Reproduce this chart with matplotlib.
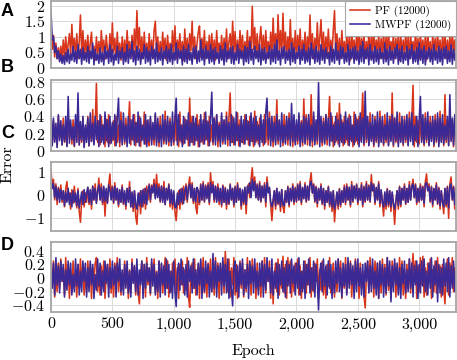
import matplotlib
matplotlib.use("Agg")
import matplotlib.pyplot as plt
from matplotlib.ticker import FuncFormatter

plt.rcParams['font.family'] = 'serif'
plt.rcParams['font.serif'] = ['cmr10', 'DejaVu Serif']
plt.rcParams['mathtext.fontset'] = 'cm'
plt.rcParams['axes.formatter.use_mathtext'] = True

# Epoch grid (one sample every 10 epochs)
epochs = list(range(0, 3301, 10))

# Panel A
pf_a = [1.2, 0.6, 1.05, 0.35, 0.8, 0.3, 0.65, 0.25, 0.7, 0.3,
        0.9, 0.35, 1.0, 0.45, 0.75, 1.1, 0.4, 1.4, 0.5, 0.95,
        0.4, 1.1, 0.3, 0.85, 1.7, 0.45, 1.2, 0.3, 0.9, 0.5,
        1.05, 0.3, 0.8, 1.15, 0.35, 0.7, 0.25, 1.0, 0.45, 0.85,
        0.3, 1.2, 0.5, 0.9, 0.28, 1.05, 0.6, 0.35, 1.1, 0.4,
        1.45, 0.5, 0.95, 0.3, 1.15, 0.45, 0.8, 0.25, 1.0, 0.35,
        0.9, 0.3, 1.2, 0.55, 0.85, 0.3, 1.05, 0.4, 1.25, 0.5,
        1.84, 0.6, 1.3, 0.4, 1.0, 0.3, 1.15, 0.35, 0.8, 0.28,
        1.1, 0.45, 0.9, 0.3, 1.2, 1.5, 0.5, 1.0, 0.3, 0.85,
        0.35, 1.15, 0.5, 0.95, 0.25, 1.05, 0.4, 0.8, 0.3, 1.2,
        0.45, 1.35, 0.3, 0.9, 0.5, 1.1, 0.35, 0.85, 0.25, 1.25,
        0.4, 0.95, 0.3, 1.1, 0.55, 1.5, 0.4, 1.0, 0.3, 0.8,
        1.15, 1.35, 0.35, 0.95, 0.5, 1.2, 0.3, 0.85, 0.45, 1.05,
        0.3, 1.1, 0.4, 0.9, 0.25, 1.2, 0.5, 0.8, 0.35, 1.05,
        0.3, 0.95, 0.45, 1.25, 0.3, 0.85, 1.1, 0.4, 1.5, 0.5,
        1.17, 0.35, 0.9, 0.3, 1.2, 0.5, 1.05, 0.3, 0.85, 0.4,
        1.2, 0.35, 1.0, 0.5, 1.98, 0.6, 1.3, 0.4, 1.1, 0.3,
        0.9, 1.33, 0.4, 1.05, 0.3, 1.2, 0.5, 0.85, 0.35, 1.15,
        0.45, 1.6, 0.5, 1.1, 0.35, 1.71, 0.55, 1.2, 0.4, 1.76,
        0.5, 1.15, 0.35, 1.0, 0.45, 1.55, 0.4, 0.95, 0.3, 1.2,
        0.35, 1.05, 0.5, 1.25, 0.3, 0.9, 0.45, 1.15, 0.3, 1.0,
        0.4, 1.7, 0.5, 1.1, 0.3, 0.95, 0.45, 1.45, 0.4, 1.0,
        1.55, 0.45, 1.15, 0.3, 1.0, 0.5, 1.25, 0.35, 0.9, 0.4,
        1.2, 1.84, 0.5, 1.1, 0.35, 0.95, 0.3, 1.2, 0.45, 0.85,
        0.3, 1.15, 0.4, 1.0, 0.25, 1.25, 0.5, 0.9, 0.3, 1.1,
        0.45, 1.3, 0.35, 0.95, 0.5, 1.15, 0.3, 0.85, 0.4, 1.2,
        0.3, 1.05, 0.45, 1.25, 0.35, 0.9, 0.5, 1.1, 0.3, 0.95,
        0.4, 1.2, 0.3, 1.0, 0.45, 1.3, 0.35, 0.85, 0.5, 1.1,
        0.3, 0.95, 0.4, 1.15, 0.25, 1.05, 0.45, 0.9, 0.35, 1.2,
        0.4, 1.0, 0.3, 1.1, 0.5, 0.85, 0.35, 1.25, 0.4, 0.95,
        0.3, 1.15, 0.45, 0.9, 0.35, 1.05, 0.25, 1.2, 0.4, 0.85,
        0.3, 1.1, 0.5, 0.95, 0.35, 1.2, 0.4, 0.9, 0.3, 1.05,
        0.45, 1.15, 0.3, 0.9, 0.4, 1.05, 0.35, 1.2, 0.45, 0.9,
        0.4]
mwpf_a = [1.85, 0.9, 1.0, 0.5, 0.7, 0.3, 0.55, 0.2, 0.45, 0.15,
          0.4, 0.12, 0.5, 0.2, 0.6, 0.15, 0.45, 0.25, 0.7, 0.2,
          0.55, 0.15, 0.75, 0.3, 0.6, 0.12, 0.65, 0.25, 0.5, 0.2,
          0.7, 0.15, 0.55, 0.3, 0.8, 0.1, 0.6, 0.25, 0.45, 0.15,
          0.65, 0.2, 0.5, 0.1, 0.7, 0.3, 0.55, 0.15, 0.75, 0.2,
          0.6, 0.1, 0.45, 0.25, 0.7, 0.15, 0.55, 0.3, 0.65, 0.12,
          0.5, 0.2, 0.75, 0.15, 0.6, 0.3, 0.85, 0.2, 0.55, 0.1,
          0.7, 0.25, 0.6, 0.12, 0.5, 0.3, 0.75, 0.15, 0.65, 0.2,
          0.55, 0.1, 0.7, 0.3, 0.6, 0.15, 0.8, 0.2, 0.5, 0.25,
          0.65, 0.1, 0.55, 0.3, 0.7, 0.15, 0.6, 0.2, 0.75, 0.12,
          0.5, 0.25, 0.8, 0.15, 0.6, 0.3, 0.55, 0.1, 0.7, 0.2,
          0.6, 0.15, 0.75, 0.25, 0.5, 0.12, 0.65, 0.3, 0.7, 0.15,
          0.55, 0.2, 0.9, 0.25, 0.6, 0.1, 0.7, 0.3, 0.55, 0.15,
          0.75, 0.2, 0.6, 0.12, 0.65, 0.3, 0.5, 0.15, 0.7, 0.25,
          0.6, 0.1, 0.8, 0.2, 0.55, 0.3, 0.65, 0.15, 0.7, 0.12,
          0.5, 0.25, 0.75, 0.15, 0.6, 0.3, 0.55, 0.1, 0.7, 0.2,
          0.65, 0.15, 0.85, 0.25, 0.6, 0.12, 0.7, 0.3, 0.55, 0.2,
          0.75, 0.1, 0.6, 0.25, 0.65, 0.15, 0.5, 0.3, 0.7, 0.12,
          0.6, 0.2, 0.75, 0.15, 0.9, 0.25, 0.55, 0.1, 0.65, 0.3,
          0.7, 0.15, 0.55, 0.25, 0.6, 0.1, 0.8, 0.2, 0.65, 0.15,
          0.5, 0.3, 0.7, 0.12, 0.6, 0.25, 0.75, 0.15, 0.55, 0.2,
          0.65, 0.1, 0.8, 0.3, 0.6, 0.15, 0.7, 0.2, 0.55, 0.12,
          0.75, 0.25, 0.6, 0.15, 0.65, 0.3, 0.5, 0.1, 0.7, 0.2,
          0.6, 0.15, 0.8, 0.25, 0.55, 0.12, 0.7, 0.3, 0.65, 0.15,
          0.5, 0.2, 0.75, 0.1, 0.6, 0.3, 0.65, 0.15, 0.7, 0.25,
          0.55, 0.12, 0.7, 0.2, 0.85, 0.15, 0.6, 0.3, 0.65, 0.1,
          0.75, 0.25, 0.55, 0.15, 0.7, 0.2, 0.6, 0.12, 0.65, 0.3,
          0.5, 0.15, 0.8, 0.2, 0.6, 0.1, 0.7, 0.25, 0.55, 0.15,
          0.65, 0.3, 0.75, 0.12, 0.6, 0.2, 0.7, 0.15, 0.5, 0.25,
          0.7, 0.1, 0.6, 0.3, 0.75, 0.15, 0.55, 0.2, 0.65, 0.12,
          0.8, 0.25, 0.6, 0.15, 0.7, 0.1, 0.55, 0.3, 0.65, 0.2,
          0.6, 0.12, 0.75, 0.25, 0.55, 0.15, 0.7, 0.2, 0.6, 0.1,
          0.65, 0.3, 0.7, 0.15, 0.55, 0.2, 0.75, 0.12, 0.6, 0.25,
          0.5]

# Panel B
pf_b = [0.3, 0.08, 0.35, 0.12, 0.28, 0.05, 0.4, 0.15, 0.32, 0.07,
        0.38, 0.1, 0.25, 0.06, 0.42, 0.14, 0.3, 0.08, 0.36, 0.05,
        0.33, 0.12, 0.45, 0.07, 0.3, 0.1, 0.38, 0.05, 0.27, 0.13,
        0.4, 0.06, 0.32, 0.11, 0.48, 0.08, 0.3, 0.78, 0.1, 0.35,
        0.07, 0.4, 0.13, 0.3, 0.05, 0.37, 0.1, 0.42, 0.08, 0.28,
        0.12, 0.35, 0.06, 0.4, 0.1, 0.3, 0.05, 0.45, 0.14, 0.33,
        0.08, 0.38, 0.11, 0.3, 0.57, 0.07, 0.36, 0.12, 0.42, 0.06,
        0.33, 0.1, 0.4, 0.05, 0.3, 0.13, 0.45, 0.08, 0.35, 0.1,
        0.06, 0.38, 0.12, 0.3, 0.07, 0.42, 0.1, 0.33, 0.05, 0.4,
        0.13, 0.3, 0.08, 0.46, 0.11, 0.35, 0.06, 0.38, 0.1, 0.32,
        0.07, 0.4, 0.12, 0.33, 0.05, 0.45, 0.1, 0.3, 0.08, 0.38,
        0.14, 0.35, 0.06, 0.61, 0.1, 0.4, 0.07, 0.32, 0.12, 0.42,
        0.05, 0.36, 0.1, 0.3, 0.08, 0.44, 0.13, 0.35, 0.06, 0.4,
        0.11, 0.3, 0.07, 0.38, 0.12, 0.42, 0.05, 0.33, 0.1, 0.4,
        0.08, 0.35, 0.13, 0.45, 0.06, 0.38, 0.67, 0.1, 0.4, 0.07,
        0.32, 0.12, 0.44, 0.06, 0.36, 0.1, 0.3, 0.08, 0.42, 0.13,
        0.35, 0.07, 0.4, 0.11, 0.3, 0.05, 0.46, 0.1, 0.34, 0.08,
        0.38, 0.13, 0.3, 0.06, 0.42, 0.1, 0.36, 0.07, 0.45, 0.12,
        0.33, 0.05, 0.4, 0.1, 0.59, 0.08, 0.35, 0.12, 0.3, 0.06,
        0.42, 0.1, 0.36, 0.07, 0.44, 0.13, 0.32, 0.05, 0.38, 0.1,
        0.3, 0.08, 0.4, 0.12, 0.35, 0.06, 0.6, 0.1, 0.42, 0.07,
        0.36, 0.13, 0.65, 0.05, 0.4, 0.1, 0.33, 0.08, 0.45, 0.12,
        0.3, 0.06, 0.38, 0.1, 0.42, 0.07, 0.35, 0.63, 0.12, 0.4,
        0.05, 0.33, 0.1, 0.44, 0.08, 0.55, 0.12, 0.36, 0.06, 0.4,
        0.1, 0.35, 0.07, 0.42, 0.13, 0.3, 0.05, 0.45, 0.1, 0.38,
        0.08, 0.4, 0.12, 0.33, 0.67, 0.06, 0.42, 0.1, 0.36, 0.07,
        0.44, 0.13, 0.3, 0.05, 0.4, 0.1, 0.35, 0.08, 0.46, 0.12,
        0.36, 0.06, 0.42, 0.1, 0.33, 0.07, 0.4, 0.13, 0.67, 0.05,
        0.38, 0.1, 0.3, 0.08, 0.44, 0.12, 0.36, 0.06, 0.4, 0.1,
        0.33, 0.07, 0.45, 0.13, 0.38, 0.76, 0.05, 0.4, 0.1, 0.35,
        0.08, 0.42, 0.12, 0.3, 0.06, 0.44, 0.1, 0.36, 0.07, 0.4,
        0.13, 0.35, 0.05, 0.42, 0.1, 0.38, 0.08, 0.46, 0.12, 0.33,
        0.06, 0.65, 0.1, 0.36, 0.07, 0.42, 0.13, 0.35, 0.05, 0.4,
        0.1]
mwpf_b = [0.45, 0.06, 0.38, 0.1, 0.32, 0.04, 0.42, 0.12, 0.35, 0.07,
          0.3, 0.11, 0.4, 0.05, 0.63, 0.09, 0.36, 0.13, 0.28, 0.06,
          0.42, 0.1, 0.67, 0.07, 0.34, 0.12, 0.4, 0.04, 0.3, 0.1,
          0.38, 0.06, 0.44, 0.11, 0.32, 0.07, 0.4, 0.13, 0.35, 0.05,
          0.42, 0.1, 0.3, 0.08, 0.45, 0.12, 0.36, 0.05, 0.4, 0.09,
          0.33, 0.13, 0.42, 0.06, 0.38, 0.61, 0.1, 0.35, 0.07, 0.44,
          0.11, 0.3, 0.05, 0.4, 0.09, 0.36, 0.13, 0.42, 0.07, 0.33,
          0.1, 0.45, 0.06, 0.38, 0.12, 0.3, 0.08, 0.42, 0.05, 0.36,
          0.11, 0.4, 0.07, 0.33, 0.13, 0.44, 0.06, 0.38, 0.1, 0.3,
          0.05, 0.42, 0.12, 0.36, 0.08, 0.4, 0.11, 0.34, 0.06, 0.45,
          0.1, 0.38, 0.61, 0.07, 0.42, 0.12, 0.3, 0.05, 0.4, 0.09,
          0.36, 0.13, 0.44, 0.06, 0.33, 0.1, 0.4, 0.07, 0.38, 0.12,
          0.3, 0.05, 0.42, 0.11, 0.36, 0.08, 0.45, 0.13, 0.34, 0.06,
          0.4, 0.68, 0.1, 0.38, 0.07, 0.42, 0.12, 0.3, 0.05, 0.44,
          0.11, 0.36, 0.08, 0.4, 0.13, 0.33, 0.06, 0.42, 0.1, 0.38,
          0.07, 0.45, 0.12, 0.3, 0.05, 0.4, 0.1, 0.36, 0.08, 0.42,
          0.13, 0.34, 0.06, 0.44, 0.11, 0.38, 0.07, 0.4, 0.12, 0.3,
          0.05, 0.42, 0.1, 0.36, 0.08, 0.45, 0.61, 0.13, 0.38, 0.06,
          0.4, 0.11, 0.33, 0.07, 0.42, 0.12, 0.36, 0.05, 0.44, 0.1,
          0.3, 0.08, 0.4, 0.13, 0.38, 0.06, 0.55, 0.11, 0.42, 0.07,
          0.36, 0.12, 0.44, 0.05, 0.33, 0.1, 0.4, 0.08, 0.38, 0.13,
          0.42, 0.06, 0.3, 0.11, 0.45, 0.07, 0.36, 0.12, 0.79, 0.05,
          0.4, 0.1, 0.34, 0.08, 0.42, 0.13, 0.38, 0.06, 0.44, 0.11,
          0.3, 0.07, 0.4, 0.12, 0.36, 0.05, 0.42, 0.1, 0.33, 0.08,
          0.45, 0.13, 0.38, 0.06, 0.4, 0.11, 0.3, 0.07, 0.42, 0.12,
          0.36, 0.05, 0.44, 0.1, 0.38, 0.08, 0.69, 0.13, 0.4, 0.06,
          0.33, 0.11, 0.42, 0.07, 0.36, 0.12, 0.45, 0.05, 0.38, 0.1,
          0.4, 0.08, 0.3, 0.13, 0.44, 0.06, 0.36, 0.11, 0.42, 0.07,
          0.38, 0.12, 0.45, 0.05, 0.33, 0.1, 0.4, 0.08, 0.36, 0.13,
          0.42, 0.06, 0.38, 0.11, 0.44, 0.07, 0.3, 0.12, 0.4, 0.05,
          0.36, 0.63, 0.1, 0.42, 0.08, 0.38, 0.13, 0.45, 0.06, 0.33,
          0.11, 0.4, 0.07, 0.36, 0.12, 0.44, 0.05, 0.38, 0.1, 0.42,
          0.08, 0.3, 0.13, 0.4, 0.06, 0.65, 0.11, 0.38, 0.07, 0.42,
          0.1]

# Panel C
pf_c = [1.13, 0.3, 0.7, -0.2, 0.5, -0.4, 0.35, -0.1, 0.45, -0.3,
        0.2, -0.5, 0.3, 0.6, -0.2, 0.1, -0.6, 0.25, -0.35, 0.4,
        -0.1, -0.55, 0.3, -0.7, -1.17, -0.2, 0.2, -0.5, 0.1, -0.3,
        0.35, -0.4, 0.2, -0.6, 0.4, -0.2, 0.5, -0.3, 0.15, 0.75,
        -0.2, 0.5, -0.4, 0.3, -0.9, 0.2, -0.3, 0.45, 0.93, -0.1,
        0.4, -0.35, 0.55, -0.2, 0.3, -0.5, 0.2, -0.3, 0.45, -0.4,
        0.1, -0.6, 0.3, -0.2, 0.6, -0.5, 0.1, -0.7, 0.2, -0.9,
        -1.26, -0.3, 0.1, -0.8, 0.2, -0.5, 0.3, -0.6, 0.4, -0.2,
        0.5, -0.3, 0.45, 0.2, 0.7, -0.1, 0.91, 0.1, 0.5, -0.3,
        0.4, -0.2, 0.6, -0.4, 0.3, -0.1, 0.5, -0.5, 0.2, -0.6,
        0.1, -0.7, -1.1, -0.3, 0.2, -0.6, 0.3, -0.4, 0.4, -0.2,
        0.5, -0.3, 0.4, 0.8, -0.1, 0.55, -0.35, 0.3, -0.5, -0.8,
        0.2, -0.4, 0.5, -0.2, 0.6, -0.3, 0.45, -0.1, 0.55, -0.4,
        0.98, 0.2, 0.6, -0.3, 0.4, -0.2, 0.5, -0.4, 0.3, -0.5,
        0.45, -0.3, 0.35, -0.6, 0.2, -0.4, 0.5, -0.2, 0.3, -0.5,
        0.4, -0.3, 0.55, -0.2, 0.3, -0.6, 0.2, -0.4, 0.35, -0.8,
        0.3, 0.5, -0.1, 0.7, 1.2, 0.3, 0.8, -0.1, 0.5, -0.2,
        0.6, -0.3, 0.4, -0.1, 0.55, -0.5, 0.8, 0.2, 0.3, -0.4,
        -1.1, -0.3, 0.2, -0.6, 0.3, -0.4, 0.1, -0.7, 0.25, -0.5,
        -0.75, 0.2, -0.3, 0.4, -0.5, 0.3, -0.2, 0.5, -0.4, 0.35,
        -0.3, 0.5, -0.2, 0.6, -0.4, 0.3, -0.1, 0.55, -0.3, 0.4,
        -0.2, 0.6, 0.98, 0.1, 0.5, -0.3, 0.4, -0.5, 0.3, -0.2,
        0.5, -0.4, 0.3, -0.6, 0.2, -0.3, 0.4, -0.5, 0.1, -0.7,
        0.2, -1.15, -0.4, 0.1, -0.6, 0.3, -0.5, 0.2, -0.3, 0.45,
        -0.4, 0.5, -0.2, 0.35, -0.5, 0.6, -0.3, 0.4, -0.1, 0.5,
        -0.4, 0.3, -0.2, 0.55, -0.5, 0.4, -0.3, 0.6, -0.2, 0.45,
        -0.3, 0.9, 0.2, 0.5, -0.4, 0.3, -0.2, 0.6, -0.5, 0.2,
        -0.3, -0.9, 0.1, -0.6, 0.3, -0.5, 0.2, -0.7, 0.1, -0.4,
        -1.26, -0.3, 0.2, -0.6, 0.4, -0.5, 0.3, -0.2, 0.5, -0.4,
        0.3, -0.3, 0.6, -0.2, 0.4, 0.7, -0.1, 0.5, -0.4, 0.3,
        -0.3, 0.5, -0.2, 0.4, -0.5, 0.6, 0.93, 0.2, 0.5, -0.3,
        0.4, -0.5, 0.3, -0.2, 0.55, -0.4, 0.35, -0.6, 0.2, -0.3,
        -0.8, 0.3, -0.5, 0.4, -1.0, 0.5, 0.8, -0.2, 0.4, -0.6,
        0.3]
mwpf_c = [0.8, 0.3, 0.5, -0.1, 0.4, -0.2, 0.3, -0.3, 0.25, -0.2,
          0.2, -0.45, 0.15, -0.3, 0.3, -0.4, 0.1, -0.5, 0.2, -0.3,
          0.1, -0.45, 0.2, -0.55, -0.2, 0.15, -0.4, 0.25, -0.3, 0.1,
          0.35, -0.3, 0.25, -0.4, 0.4, -0.2, 0.3, -0.35, 0.2, 0.45,
          -0.2, 0.35, -0.3, 0.4, -0.25, 0.3, -0.35, 0.45, 0.2, -0.2,
          0.35, -0.3, 0.4, -0.2, 0.3, -0.4, 0.25, -0.3, 0.35, -0.35,
          0.2, -0.45, 0.3, -0.3, 0.35, -0.5, 0.15, -0.55, 0.2, -0.4,
          -0.6, 0.1, -0.45, 0.2, -0.5, 0.25, -0.35, 0.3, -0.4, 0.2,
          0.45, -0.2, 0.4, 0.1, 0.5, -0.15, 0.45, -0.1, 0.35, -0.25,
          0.4, -0.3, 0.35, -0.4, 0.3, -0.2, 0.45, -0.35, 0.25, -0.4,
          0.2, -0.5, -0.55, 0.1, -0.4, 0.25, -0.3, 0.3, -0.35, 0.2,
          0.4, -0.2, 0.35, 0.5, -0.1, 0.45, -0.25, 0.3, -0.3, 0.35,
          0.2, -0.3, 0.45, -0.2, 0.5, -0.25, 0.4, -0.15, 0.45, -0.3,
          0.55, 0.1, 0.45, -0.2, 0.4, -0.3, 0.35, -0.25, 0.3, -0.4,
          0.4, -0.3, 0.3, -0.4, 0.25, -0.35, 0.45, -0.2, 0.3, -0.4,
          0.35, -0.3, 0.45, -0.2, 0.3, -0.45, 0.25, -0.3, 0.35, -0.4,
          0.4, 0.1, 0.55, -0.1, 0.7, 0.2, 0.6, -0.1, 0.45, -0.2,
          0.5, -0.25, 0.4, -0.1, 0.45, -0.3, 0.55, 0.1, 0.35, -0.3,
          -0.5, -0.2, 0.2, -0.45, 0.3, -0.35, 0.15, -0.5, 0.25, -0.4,
          -0.45, 0.2, -0.3, 0.35, -0.4, 0.3, -0.25, 0.4, -0.3, 0.3,
          -0.25, 0.45, -0.2, 0.5, -0.3, 0.35, -0.15, 0.45, -0.25, 0.4,
          -0.2, 0.5, 0.6, 0.1, 0.45, -0.25, 0.35, -0.35, 0.3, -0.2,
          0.4, -0.35, 0.3, -0.45, 0.2, -0.3, 0.35, -0.4, 0.15, -0.5,
          0.2, -0.6, -0.35, 0.15, -0.45, 0.25, -0.4, 0.2, -0.3, 0.35,
          -0.3, 0.4, -0.2, 0.35, -0.4, 0.45, -0.25, 0.4, -0.15, 0.45,
          -0.3, 0.3, -0.2, 0.45, -0.4, 0.35, -0.25, 0.5, -0.2, 0.4,
          -0.25, 0.55, 0.2, 0.45, -0.3, 0.35, -0.2, 0.5, -0.35, 0.25,
          -0.3, -0.5, 0.15, -0.45, 0.25, -0.4, 0.2, -0.5, 0.15, -0.35,
          -0.6, -0.25, 0.2, -0.45, 0.35, -0.4, 0.3, -0.2, 0.4, -0.35,
          0.3, -0.3, 0.45, -0.2, 0.4, 0.5, -0.1, 0.45, -0.3, 0.3,
          -0.25, 0.4, -0.2, 0.35, -0.35, 0.5, 0.55, 0.2, 0.4, -0.25,
          0.35, -0.4, 0.3, -0.2, 0.45, -0.35, 0.3, -0.45, 0.2, -0.3,
          -0.5, 0.3, -0.4, 0.35, -0.55, 0.4, 0.5, -0.2, 0.35, -0.4,
          0.3]

# Panel D
pf_d = [0.2, -0.1, 0.25, -0.28, 0.05, -0.2, 0.22, -0.15, 0.28, -0.05,
        0.15, -0.25, 0.3, -0.1, 0.2, -0.3, 0.1, -0.2, 0.25, -0.12,
        0.05, -0.28, 0.2, -0.15, 0.28, -0.05, 0.18, -0.25, 0.1, -0.2,
        0.25, -0.1, 0.2, -0.3, 0.15, -0.05, 0.22, 0.3, -0.2, 0.1,
        -0.25, 0.18, -0.1, 0.25, -0.3, 0.05, 0.2, -0.15, 0.28, -0.22,
        0.1, -0.28, 0.22, -0.05, 0.3, -0.2, 0.15, -0.25, 0.08, -0.18,
        0.25, -0.1, 0.2, -0.3, 0.12, -0.22, 0.28, -0.05, 0.18, -0.25,
        0.1, -0.2, -0.38, 0.05, 0.25, -0.15, 0.2, -0.28, 0.3, -0.1,
        0.15, -0.25, 0.22, -0.05, 0.28, -0.2, 0.1, -0.3, 0.25, -0.12,
        0.2, -0.22, 0.05, 0.3, -0.15, 0.25, -0.28, 0.1, -0.2, 0.22,
        -0.05, 0.28, -0.25, 0.15, -0.3, 0.2, -0.1, 0.25, -0.22, 0.12,
        -0.18, 0.3, -0.28, -0.43, 0.1, 0.22, -0.15, 0.28, -0.25, 0.05,
        0.2, -0.3, 0.25, -0.1, 0.3, -0.22, 0.15, -0.28, 0.22, -0.05,
        0.28, -0.2, 0.1, -0.25, 0.3, -0.15, 0.22, -0.3, 0.18, -0.1,
        0.25, -0.22, 0.39, 0.1, -0.2, 0.28, -0.28, 0.15, -0.1, 0.3,
        -0.25, 0.2, -0.3, 0.05, 0.25, -0.15, 0.22, -0.28, 0.12, -0.2,
        0.3, -0.1, 0.2, -0.25, 0.28, -0.05, 0.15, -0.3, 0.22, -0.18,
        0.1, -0.28, 0.25, -0.12, 0.3, -0.22, 0.18, -0.05, 0.25, -0.3,
        0.15, -0.38, 0.05, 0.22, -0.2, 0.28, -0.25, 0.1, -0.15, 0.32,
        -0.22, 0.2, -0.3, 0.3, -0.1, 0.25, -0.28, 0.12, -0.2, 0.22,
        -0.05, 0.28, -0.25, 0.18, -0.3, 0.1, -0.15, 0.25, -0.22, 0.2,
        -0.1, 0.3, -0.28, 0.15, -0.2, 0.22, -0.05, 0.28, -0.3, 0.12,
        -0.18, 0.25, -0.25, 0.1, -0.3, 0.2, -0.12, 0.3, -0.22, 0.05,
        0.22, -0.28, 0.15, -0.2, 0.28, -0.05, 0.25, -0.3, 0.1, -0.15,
        0.3, -0.22, 0.18, -0.1, 0.25, -0.28, 0.12, -0.2, 0.28, -0.05,
        0.2, -0.3, 0.22, -0.15, 0.1, -0.25, -0.44, 0.05, 0.25, -0.2,
        0.3, -0.1, 0.18, -0.28, 0.25, -0.05, 0.22, -0.3, 0.15, -0.22,
        0.28, -0.12, 0.2, -0.25, 0.3, -0.18, 0.1, -0.3, 0.25, -0.05,
        0.22, -0.28, 0.15, -0.2, 0.3, -0.1, 0.25, -0.25, 0.12, -0.3,
        0.2, -0.15, 0.28, -0.22, 0.1, 0.36, -0.05, 0.25, -0.3, 0.18,
        -0.2, 0.3, -0.1, 0.32, -0.28, 0.15, -0.25, 0.22, -0.05, 0.28,
        -0.3, 0.12, -0.2, 0.25, -0.22, 0.3, -0.1, 0.18, -0.28, 0.2,
        -0.15, -0.38, 0.1, 0.28, -0.25, 0.22, -0.05, 0.3, -0.2, 0.15,
        -0.1]
mwpf_d = [0.1, -0.15, 0.22, -0.25, 0.3, -0.1, 0.18, -0.22, 0.25, -0.05,
          0.2, -0.28, 0.12, -0.18, 0.25, -0.1, 0.22, -0.25, 0.05, -0.2,
          0.28, -0.12, 0.2, -0.25, 0.1, -0.2, 0.25, -0.05, 0.22, -0.28,
          0.15, -0.2, 0.25, -0.1, 0.2, -0.3, 0.05, -0.18, 0.28, -0.12,
          0.22, -0.25, 0.1, -0.2, 0.25, -0.08, 0.2, -0.28, 0.15, -0.15,
          0.25, -0.1, 0.18, -0.28, 0.22, -0.05, 0.28, -0.2, 0.12, -0.25,
          0.2, -0.15, 0.25, -0.22, 0.1, -0.28, 0.22, -0.08, 0.18, -0.2,
          0.28, -0.25, 0.12, -0.1, 0.25, -0.3, 0.2, -0.15, 0.22, -0.05,
          0.15, -0.22, 0.28, -0.12, 0.2, -0.25, 0.08, -0.2, 0.25, -0.28,
          0.22, -0.1, 0.18, -0.25, 0.28, -0.15, 0.2, -0.22, 0.1, -0.3,
          0.25, -0.2, -0.42, 0.1, 0.22, -0.18, 0.28, -0.1, 0.15, -0.25,
          0.2, -0.28, 0.25, -0.05, 0.18, -0.22, 0.28, -0.15, 0.12, -0.25,
          0.22, -0.1, 0.28, -0.3, 0.15, -0.2, 0.25, -0.08, 0.2, -0.28,
          0.1, -0.2, 0.36, -0.15, 0.25, -0.28, 0.18, -0.05, 0.22, -0.25,
          0.3, -0.12, 0.2, -0.22, 0.28, -0.3, 0.1, -0.18, -0.41, 0.15,
          0.25, -0.2, 0.18, -0.28, 0.22, -0.1, 0.28, -0.25, 0.12, -0.15,
          0.2, -0.3, 0.25, -0.08, 0.18, -0.22, 0.28, -0.15, 0.1, -0.25,
          0.22, -0.12, 0.25, -0.28, 0.2, -0.18, 0.3, -0.05, 0.15, -0.22,
          0.28, -0.25, 0.1, -0.15, 0.22, -0.3, 0.2, -0.1, 0.25, -0.2,
          0.15, -0.28, 0.25, -0.12, 0.2, -0.22, 0.28, -0.08, 0.18, -0.25,
          0.22, -0.15, 0.3, -0.25, 0.1, -0.2, 0.25, -0.3, 0.2, -0.1,
          0.28, -0.22, 0.15, -0.18, 0.25, -0.28, 0.2, -0.05, -0.47, 0.1,
          0.22, -0.2, 0.28, -0.12, 0.18, -0.25, 0.25, -0.15, 0.2, -0.3,
          0.1, -0.22, 0.25, -0.08, 0.28, -0.2, 0.15, -0.28, 0.22, -0.12,
          0.2, -0.25, 0.3, -0.15, 0.22, -0.1, 0.18, -0.3, 0.25, -0.2,
          0.28, -0.12, 0.15, -0.25, 0.2, -0.28, 0.22, -0.05, 0.25, -0.22,
          0.18, -0.2, 0.28, -0.15, 0.1, -0.25, 0.22, -0.3, 0.25, -0.1,
          0.2, -0.28, 0.15, -0.22, 0.3, -0.12, 0.25, -0.35, 0.18, -0.2,
          0.28, -0.1, 0.22, -0.25, 0.15, -0.3, 0.2, -0.08, 0.25, -0.22,
          0.12, -0.2, 0.28, -0.15, 0.22, -0.28, 0.18, -0.1, 0.25, -0.3,
          0.2, -0.22, 0.25, -0.12, 0.28, -0.2, 0.1, -0.25, 0.22, -0.15,
          0.3, -0.28, 0.18, -0.1, 0.25, -0.35, 0.2, -0.22, 0.15, -0.25,
          0.28, -0.12, 0.22, -0.2, 0.3, -0.28, 0.18, -0.15, 0.25, -0.2,
          0.1]

panel_letters = ['A', 'B', 'C', 'D']
y_ticks = [[0, 0.5, 1, 1.5, 2],
           [0, 0.2, 0.4, 0.6, 0.8],
           [-1, 0, 1],
           [-0.4, -0.2, 0, 0.2, 0.4]]
y_limits = [(0, 2.15), (0, 0.82), (-1.55, 1.45), (-0.5, 0.53)]
x_ticks = [0, 500, 1000, 1500, 2000, 2500, 3000]

pf_series = [pf_a, pf_b, pf_c, pf_d]
mwpf_series = [mwpf_a, mwpf_b, mwpf_c, mwpf_d]

red = '#d8361c'
blue = '#3b2a96'

W, H = 457, 360
fig = plt.figure(figsize=(W / 100, H / 100), dpi=100)

# pixel boxes (top, bottom) of the four panels
boxes = [(1, 68), (80, 151), (162, 231), (242, 312)]
label_y = [11.5, 67, 134, 245.5]
left, right = 51, 456

axes = []
for k, (top, bot) in enumerate(boxes):
    ax = fig.add_axes([left / W, 1 - bot / H, (right - left) / W, (bot - top) / H])
    ax.plot(epochs, pf_series[k], color=red, lw=1.15, label='PF (12000)')
    ax.plot(epochs, mwpf_series[k], color=blue, lw=1.15, label='MWPF (12000)')
    ax.set_xlim(0, 3300)
    ax.set_ylim(*y_limits[k])
    ax.set_yticks(y_ticks[k])
    ax.set_xticks(x_ticks)
    ax.yaxis.set_major_formatter(FuncFormatter(lambda v, p: '$%g$' % v))
    ax.grid(True, color='#dadada', lw=0.7)
    ax.set_axisbelow(True)
    ax.tick_params(length=0, labelsize=11.5, pad=4)
    for s in ax.spines.values():
        s.set_color('#a6a6a6')
        s.set_linewidth(1.3)
    if k < 3:
        ax.tick_params(labelbottom=False)
    else:
        ax.xaxis.set_major_formatter(FuncFormatter(lambda v, p: '{:,.0f}'.format(v)))
    fig.text(7.5 / W, 1 - label_y[k] / H, panel_letters[k], ha='center', va='center',
             fontsize=13, fontweight='bold', family='Liberation Sans')
    axes.append(ax)

leg = axes[0].legend(loc='upper right', bbox_to_anchor=(1.0, 1.0), borderaxespad=0,
                     fontsize=8, fancybox=False, framealpha=1, edgecolor='#a6a6a6',
                     handlelength=1.8, handletextpad=0.5, borderpad=0.4, labelspacing=0.3)
leg.get_frame().set_linewidth(0.8)

fig.text(7.5 / W, 1 - 164 / H, 'Error', rotation=90, ha='center', va='center', fontsize=11.5)
fig.text((left + right) / 2 / W, 1 - 351 / H, 'Epoch', ha='center', va='center', fontsize=11.5)

fig.savefig('out.png', dpi=100)
